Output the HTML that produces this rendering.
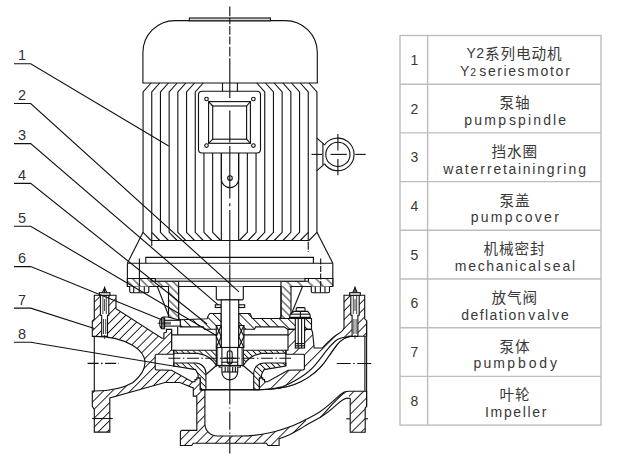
<!DOCTYPE html>
<html><head><meta charset="utf-8"><title>pump</title>
<style>html,body{margin:0;padding:0;background:#fff;}svg{display:block}</style></head>
<body><svg width="620" height="459" viewBox="0 0 620 459">
<defs><pattern id="hr" width="6.3" height="6.3" patternUnits="userSpaceOnUse" patternTransform="rotate(45)"><rect width="6.3" height="6.3" fill="#fff"/><line x1="3.15" y1="-1" x2="3.15" y2="7.3" stroke="#111" stroke-width="0.9"/></pattern>
<pattern id="hr2" width="4.6" height="4.6" patternUnits="userSpaceOnUse" patternTransform="rotate(45)"><rect width="4.6" height="4.6" fill="#fff"/><line x1="2.3" y1="-1" x2="2.3" y2="5.6" stroke="#111" stroke-width="0.9"/></pattern>
<pattern id="hr3" width="6.8" height="6.8" patternUnits="userSpaceOnUse" patternTransform="rotate(45)"><rect width="6.8" height="6.8" fill="#fff"/><line x1="3.4" y1="-1" x2="3.4" y2="7.8" stroke="#111" stroke-width="0.9"/></pattern>
<pattern id="hr4" width="8.4" height="8.4" patternUnits="userSpaceOnUse" patternTransform="rotate(45)"><rect width="8.4" height="8.4" fill="#fff"/><line x1="4.2" y1="-1" x2="4.2" y2="9.4" stroke="#111" stroke-width="0.9"/></pattern>
<pattern id="hl" width="5.3" height="5.3" patternUnits="userSpaceOnUse" patternTransform="rotate(-45)"><rect width="5.3" height="5.3" fill="#fff"/><line x1="2.65" y1="-1" x2="2.65" y2="6.3" stroke="#111" stroke-width="0.9"/></pattern>
<pattern id="hl2" width="7.5" height="7.5" patternUnits="userSpaceOnUse" patternTransform="rotate(-45)"><rect width="7.5" height="7.5" fill="#fff"/><line x1="3.75" y1="-1" x2="3.75" y2="8.5" stroke="#111" stroke-width="0.9"/></pattern>
<pattern id="hli" width="4.2" height="4.2" patternUnits="userSpaceOnUse" patternTransform="rotate(-45)"><rect width="4.2" height="4.2" fill="#fff"/><line x1="2.1" y1="-1" x2="2.1" y2="5.2" stroke="#111" stroke-width="0.9"/></pattern>
<pattern id="hlc" width="6.2" height="6.2" patternUnits="userSpaceOnUse" patternTransform="rotate(-45)"><rect width="6.2" height="6.2" fill="#fff"/><line x1="3.1" y1="-1" x2="3.1" y2="7.2" stroke="#111" stroke-width="0.9"/></pattern>
<clipPath id="clipC1"><rect x="343.5" y="290" width="30" height="50"/></clipPath><clipPath id="clipC2"><rect x="250" y="290" width="93.5" height="110"/></clipPath><clipPath id="clipB"><rect x="170" y="380" width="136" height="75"/><rect x="349" y="389" width="20" height="45"/></clipPath>
</defs>
<rect width="620" height="459" fill="#fff"/>
<g stroke="#bdbdbd" stroke-width="1.4" fill="none">
<rect x="400" y="35.5" width="201" height="389.6" />
<line x1="427.6" y1="35.5" x2="427.6" y2="425.1" />
<line x1="400" y1="84.2" x2="601" y2="84.2" />
<line x1="400" y1="132.9" x2="601" y2="132.9" />
<line x1="400" y1="181.6" x2="601" y2="181.6" />
<line x1="400" y1="230.3" x2="601" y2="230.3" />
<line x1="400" y1="279.0" x2="601" y2="279.0" />
<line x1="400" y1="327.7" x2="601" y2="327.7" />
<line x1="400" y1="376.4" x2="601" y2="376.4" />
</g>
<g fill="#383838" stroke="none" font-family="Liberation Sans, sans-serif" font-size="14px">
<text x="414.3" y="64.8" text-anchor="middle">1</text>
<text x="459.9" y="76.1" textLength="9.2" lengthAdjust="spacing">Y</text>
<text x="479.3" y="76.1" textLength="45.3" lengthAdjust="spacing">series</text>
<text x="527.0" y="76.1" textLength="42.8" lengthAdjust="spacing">motor</text>
<text x="470.3" y="76.1" font-size="10.5px">2</text>
<text x="466.6" y="58.3" textLength="17.5" lengthAdjust="spacing">Y2</text>
<text x="485.0 500.5 516.0 531.5 547.0" y="59.4" font-size="14.6px" font-family="'Liberation Sans', 'Noto Sans CJK SC', sans-serif">系列电动机</text>
<text x="414.3" y="113.5" text-anchor="middle">2</text>
<text x="464.3" y="124.8" textLength="41.7" lengthAdjust="spacing">pump</text>
<text x="509.0" y="124.8" textLength="57.1" lengthAdjust="spacing">spindle</text>
<text x="499.4 514.9" y="108.1" font-size="14.6px" font-family="'Liberation Sans', 'Noto Sans CJK SC', sans-serif">泵轴</text>
<text x="414.3" y="162.2" text-anchor="middle">3</text>
<text x="443.2" y="173.5" textLength="41.7" lengthAdjust="spacing">water</text>
<text x="487.0" y="173.5" textLength="67.5" lengthAdjust="spacing">retaining</text>
<text x="556.7" y="173.5" textLength="29.3" lengthAdjust="spacing">ring</text>
<text x="491.6 507.1 522.6" y="156.8" font-size="14.6px" font-family="'Liberation Sans', 'Noto Sans CJK SC', sans-serif">挡水圈</text>
<text x="414.3" y="210.9" text-anchor="middle">4</text>
<text x="470.8" y="222.2" textLength="41.7" lengthAdjust="spacing">pump</text>
<text x="515.4" y="222.2" textLength="43.5" lengthAdjust="spacing">cover</text>
<text x="499.4 514.9" y="205.5" font-size="14.6px" font-family="'Liberation Sans', 'Noto Sans CJK SC', sans-serif">泵盖</text>
<text x="414.3" y="259.6" text-anchor="middle">5</text>
<text x="454.8" y="270.9" textLength="86.1" lengthAdjust="spacing">mechanical</text>
<text x="543.8" y="270.9" textLength="31.4" lengthAdjust="spacing">seal</text>
<text x="483.4 498.9 514.4 529.9" y="254.2" font-size="14.6px" font-family="'Liberation Sans', 'Noto Sans CJK SC', sans-serif">机械密封</text>
<text x="414.3" y="308.3" text-anchor="middle">6</text>
<text x="461.3" y="319.6" textLength="64.1" lengthAdjust="spacing">deflation</text>
<text x="528.3" y="319.6" textLength="40.4" lengthAdjust="spacing">valve</text>
<text x="491.6 507.1 522.6" y="302.9" font-size="14.6px" font-family="'Liberation Sans', 'Noto Sans CJK SC', sans-serif">放气阀</text>
<text x="414.3" y="357.0" text-anchor="middle">7</text>
<text x="473.4" y="368.3" textLength="41.6" lengthAdjust="spacing">pump</text>
<text x="518.0" y="368.3" textLength="38.9" lengthAdjust="spacing">body</text>
<text x="499.4 514.9" y="351.6" font-size="14.6px" font-family="'Liberation Sans', 'Noto Sans CJK SC', sans-serif">泵体</text>
<text x="414.3" y="405.7" text-anchor="middle">8</text>
<text x="485.0" y="417.0" textLength="61.5" lengthAdjust="spacing">Impeller</text>
<text x="499.4 514.9" y="400.3" font-size="14.6px" font-family="'Liberation Sans', 'Noto Sans CJK SC', sans-serif">叶轮</text>
</g>
<g fill="#333" stroke="none" font-family="Liberation Sans, sans-serif" font-size="14.5px">
<text x="22" y="60.1" text-anchor="middle">1</text>
<text x="22" y="99.9" text-anchor="middle">2</text>
<text x="22" y="140.0" text-anchor="middle">3</text>
<text x="22" y="179.8" text-anchor="middle">4</text>
<text x="22" y="222.6" text-anchor="middle">5</text>
<text x="22" y="263.0" text-anchor="middle">6</text>
<text x="22" y="304.5" text-anchor="middle">7</text>
<text x="22" y="338.7" text-anchor="middle">8</text>
</g>
<g stroke="#111" stroke-width="1.12" fill="none" stroke-linecap="butt" stroke-linejoin="miter">
<path d="M142.9,83 V52.6 A32,32 0 0 1 174.9,20.6 H285.3 A32,32 0 0 1 317.3,52.6 V83 Z" />
<rect x="189.4" y="18" width="81.0" height="2.8" fill="#dcdcdc"/>
<path d="M221.35,153 V240.5" />
<path d="M238.65,153 V240.5" />
<path d="M212.65,153 V232.3 L220.65,240.5" />
<path d="M247.35,153 V232.3 L239.35,240.5" />
<path d="M203.95,153 V232.3 L211.95,240.5" />
<path d="M256.05,153 V232.3 L248.05,240.5" />
<path d="M203.25,83 L195.25,92 V232.3 L203.25,240.5" />
<path d="M256.75,83 L264.75,92 V232.3 L256.75,240.5" />
<path d="M194.55,83 L186.55,92 V232.3 L194.55,240.5" />
<path d="M265.45,83 L273.45,92 V232.3 L265.45,240.5" />
<path d="M185.85,83 L177.85,92 V232.3 L185.85,240.5" />
<path d="M274.15,83 L282.15,92 V232.3 L274.15,240.5" />
<path d="M177.15,83 L169.15,92 V232.3 L177.15,240.5" />
<path d="M282.85,83 L290.85,92 V232.3 L282.85,240.5" />
<path d="M168.45,83 L160.45,92 V232.3 L168.45,240.5" />
<path d="M291.55,83 L299.55,92 V232.3 L291.55,240.5" />
<path d="M159.75,83 L151.75,92 V232.3 L159.75,240.5" />
<path d="M300.25,83 L308.25,92 V232.3 L300.25,240.5" />
<path d="M151.05,83 L143.05,92 V232.3 L151.05,240.5" />
<path d="M308.95,83 L316.95,92 V232.3 L308.95,240.5" />
<line x1="151" y1="240.5" x2="309" y2="240.5" />
<line x1="151.75" y1="232.3" x2="151.75" y2="246" />
<line x1="308.25" y1="232.3" x2="308.25" y2="252" stroke-dasharray="8 1.5"/>
<polyline points="143.05,232.3 127.4,263.2" />
<polyline points="316.95,232.3 332.8,263.2" />
<polyline points="145.8,263.2 145.8,257.4 313.4,257.4 313.4,263.2" />
<line x1="127.4" y1="263.2" x2="332.8" y2="263.2" />
<line x1="127.4" y1="263.2" x2="127.4" y2="286.4" />
<line x1="332.8" y1="263.2" x2="332.8" y2="286.4" />
<polygon points="178.6,281.3 151.2,281.3 151.2,278.5 127.4,278.5 127.4,286.5 168.5,286.5 168.5,317 178.6,320" fill="url(#hl)"/>
<polygon points="281,281.3 308.4,281.3 308.4,278.5 332.8,278.5 332.8,286.5 281,286.5" fill="url(#hl2)" stroke="none"/>
<polygon points="281,286 291,286 291,318.5 281,318.5" fill="url(#hl)" stroke="none"/>
<polygon points="281,281.3 308.4,281.3 308.4,278.5 332.8,278.5 332.8,286.5 291,286.5 291,318.5 281,318.5" />
<line x1="127.4" y1="278.5" x2="332.8" y2="278.5" />
<rect x="155.3" y="278.5" width="149.7" height="2.8" fill="#d8d8d8" stroke="none"/>
<line x1="155.3" y1="281.3" x2="305" y2="281.3" />
<polyline points="151.2,278.5 155.3,278.5 155.3,281.3" />
<polyline points="308.4,278.5 305,278.5 305,281.3" />
<line x1="178.6" y1="286.5" x2="281" y2="286.5" />
<line x1="139.4" y1="258.5" x2="139.4" y2="291.5" />
<line x1="320.7" y1="258.5" x2="320.7" y2="291.5" stroke-dasharray="6 1.5"/>
<path d="M129.7,286.4 V291.3 Q129.7,292.8 131.2,292.8 H147.3 Q148.8,292.8 148.8,291.3 V286.4" fill="#fff"/>
<line x1="133.7" y1="286.4" x2="133.7" y2="292.8" />
<line x1="144.3" y1="286.4" x2="144.3" y2="292.8" />
<line x1="139.25" y1="286.4" x2="139.25" y2="292.8" />
<path d="M311.3,286.4 V291.3 Q311.3,292.8 312.8,292.8 H328.0 Q329.5,292.8 329.5,291.3 V286.4" fill="#fff"/>
<line x1="315.3" y1="286.4" x2="315.3" y2="292.8" />
<line x1="325.0" y1="286.4" x2="325.0" y2="292.8" />
<line x1="320.4" y1="286.4" x2="320.4" y2="292.8" />
<rect x="198.5" y="91.3" width="62" height="61.7" rx="3.5" fill="#fff"/>
<rect x="208.6" y="101.6" width="41.8" height="41.7" />
<rect x="212.7" y="106" width="33.9" height="33.2" />
<line x1="208.6" y1="101.6" x2="212.7" y2="106" />
<line x1="250.4" y1="101.6" x2="246.6" y2="106" />
<line x1="208.6" y1="143.3" x2="212.7" y2="139.2" />
<line x1="250.4" y1="143.3" x2="246.6" y2="139.2" />
<circle cx="206.5" cy="99" r="1.8" />
<circle cx="206.5" cy="145.6" r="1.8" />
<circle cx="253.4" cy="99" r="1.8" />
<circle cx="253.4" cy="145.6" r="1.8" />
<line x1="222.5" y1="83" x2="222.5" y2="91.3" />
<line x1="237.4" y1="83" x2="237.4" y2="91.3" />
<path d="M221.35,153 V179 A8.65,8.65 0 0 0 238.65,179 V153" />
<circle cx="230" cy="178.1" r="2.3" />
<polyline points="316.95,138.1 324.3,144.6" />
<polyline points="316.95,170.7 324.3,164.2" />
<line x1="322.9" y1="143.3" x2="322.9" y2="164.8" />
<path d="M324.3,145.2 A16.3,16.3 0 1 1 324.3,163.6" />
<circle cx="337.9" cy="154.4" r="12.1" />
<line x1="311.5" y1="154.4" x2="322" y2="154.4" />
<line x1="330.5" y1="154.4" x2="346.8" y2="154.4" />
<line x1="355.3" y1="154.4" x2="365.7" y2="154.4" />
<line x1="337.9" y1="134.1" x2="337.9" y2="150.5" />
<line x1="337.9" y1="159" x2="337.9" y2="175.3" />
<path d="M216.3,286.4 V298.9 L217.3,299.9 H242.3 L243.3,298.9 V286.4" fill="#fff"/>
<polyline points="157.3,286.5 168.5,315.3" />
<polyline points="302.5,286.5 291.5,313.8" />
<polyline points="168.5,317 163,317 163,320" />
<path d="M178.6,286.5 V317.3 Q178.6,319.8 181.1,319.8 M281,286.5 V316 Q281,318.5 278.5,318.5" />
<polygon points="180.2,319.8 207.1,318.7 208.2,315.7 209.8,313.5 221.2,313.5 221.2,329.3 204.4,329.3 203.3,326.9 180.2,326.9" fill="url(#hlc)"/>
<polygon points="238.7,313.5 250.1,313.5 252.3,318.5 291.5,318.5 305.5,318.5 311.5,318.5 311.5,329.4 288,329.4 284,326.9 255.6,326.9 254.5,329.3 238.7,329.3" fill="url(#hlc)"/>
<path d="M164.6,317.8 H161.6 Q159.6,319.5 159.6,323.2 Q159.6,327 161.6,328.7 H164.6 Z" fill="#fff"/>
<rect x="164.6" y="320.3" width="15.7" height="5.8" fill="#fff"/>
<line x1="161.6" y1="317.8" x2="161.6" y2="328.7" />
<line x1="163.1" y1="317.8" x2="163.1" y2="328.7" />
<line x1="157.5" y1="323.2" x2="171" y2="323.2" stroke-width="0.8"/>
<line x1="164.6" y1="322.2" x2="171" y2="322.2" stroke-width="0.6"/>
<line x1="164.6" y1="324.2" x2="171" y2="324.2" stroke-width="0.6"/>
<rect x="215.3" y="304.8" width="5.9" height="2.7" />
<rect x="238.7" y="304.8" width="6.0" height="2.7" />
<rect x="221.2" y="299.9" width="17.5" height="47.6" fill="#fff"/>
<rect x="216.3" y="325.5" width="4.9" height="22.0" fill="#fff"/>
<line x1="216.3" y1="325.5" x2="221.2" y2="336.5" />
<line x1="221.2" y1="325.5" x2="216.3" y2="336.5" />
<line x1="216.3" y1="336.5" x2="221.2" y2="347.5" />
<line x1="221.2" y1="336.5" x2="216.3" y2="347.5" />
<rect x="238.7" y="325.5" width="5.2" height="22.0" fill="#fff"/>
<line x1="238.7" y1="325.5" x2="243.9" y2="336.5" />
<line x1="243.9" y1="325.5" x2="238.7" y2="336.5" />
<line x1="238.7" y1="336.5" x2="243.9" y2="347.5" />
<line x1="243.9" y1="336.5" x2="238.7" y2="347.5" />
<line x1="177.7" y1="326.9" x2="177.7" y2="334.9" />
<line x1="171.6" y1="334.9" x2="216.3" y2="334.9" />
<line x1="243.9" y1="334.9" x2="288.2" y2="334.9" />
<line x1="171.6" y1="347.5" x2="171.6" y2="329.4" />
<path d="M94.3,295.3 L116,295.3 L116,308.8 L161.9,338.2 L163.9,338.2 L163.9,333 L166.4,332.2 L166.4,329.4 L171.6,329.4 L171.6,350.3 L173.8,350.3 L173.8,354.2 L156.2,354.2 L155.2,355.2 L155.2,368.9 L156.2,369.9 L171.5,370.3 L192,381.8 L195,381.8 L195,379.6 L196.8,379.6 L196.8,377.9 L200.3,377.9 L200.3,389.8 L204.9,389.8 L204.9,396.1 L193.3,396.1 L193.3,387.9 L179.8,382.5 L165,382.5 L109.8,397.9 L109.8,432.1 L94.3,432.1 L94.3,409.5 L92.3,406.3 L92.3,391 L94.3,391 C108,391 122,389 133,382.5 C141,376 145,369 145,362.5 C145,356 141,350.5 133,345.5 C122,339 108,336.4 94.3,336.4 L92.3,336.4 L92.3,321 L94.3,319.1 Z" fill="url(#hr)" stroke="none"/>
<line x1="94.3" y1="336.4" x2="94.3" y2="391" />
<path d="M196.8,396.1 L193.3,396.1 L193.3,387.9 L179.8,382.5 L165,382.5 L109.8,397.9 L109.8,432.1 L94.3,432.1 L94.3,409.5 L92.3,406.3 L92.3,391 L94.3,391 C108,391 122,389 133,382.5 C141,376 145,369 145,362.5 C145,356 141,350.5 133,345.5 C122,339 108,336.4 94.3,336.4 L92.3,336.4 L92.3,321 L94.3,319.1 L94.3,295.3 L116,295.3 L116,308.8 L161.9,338.2 L163.9,338.2 L163.9,333 L166.4,332.2 L166.4,329.4 L171.6,329.4 L171.6,350.3 L173.8,350.3 L173.8,354.2 L156.2,354.2 L155.2,355.2 L155.2,368.9 L156.2,369.9 L171.5,370.3 L192,381.8 L195,381.8 L195,379.6 L196.8,379.6 L196.8,377.9 L200.3,377.9 L200.3,389.8 L204.9,389.8" />
<path d="M100.39999999999999,295.3 V315.3 H101.69999999999999 V336.4 H107.5 V315.3 H108.8 V295.3 Z" fill="#fff"/>
<line x1="102.89999999999999" y1="295.3" x2="102.89999999999999" y2="314" stroke-width="0.8"/>
<line x1="106.3" y1="295.3" x2="106.3" y2="314" stroke-width="0.8"/>
<line x1="104.6" y1="299" x2="104.6" y2="311" stroke-width="0.8"/>
<line x1="103.5" y1="319" x2="103.5" y2="334" stroke-width="0.8"/>
<line x1="105.69999999999999" y1="319" x2="105.69999999999999" y2="334" stroke-width="0.8"/>
<line x1="104.6" y1="335" x2="104.6" y2="339" stroke-width="0.8"/>
<rect x="99.3" y="292.7" width="10.6" height="2.6" fill="#fff"/>
<polyline points="102.3,292.7 104.6,287.9 106.89999999999999,292.7" />
<line x1="104.6" y1="286.5" x2="104.6" y2="292.7" />
<line x1="92.1" y1="418.5" x2="112.7" y2="418.5" />
<path d="M344,295.3 L364.7,295.3 L364.7,318.8 L366.6,320.7 L366.6,336.2 L347.6,336.2 L352,336.2 C345,336.5 340,341 336.9,344.8 C333,350 331,353 329.2,355.5 C326,360.5 323,364.5 320,367.7 C316,372 312,375 307.9,377.6 C303,380.7 298,383 294.2,384.5 C286,387.5 272,389.5 259.9,389.8 L259.3,389.8 L259.3,377.9 L262.8,377.9 L262.8,379.6 L264.6,379.6 L264.6,381.8 L267.6,381.8 L288.1,370.3 L303.4,369.9 L304.4,368.9 L304.4,355.2 L303.4,354.2 L285.8,354.2 L285.8,350.3 L288,350.3 L288,329.4 L311.5,329.4 L312.6,332.7 L314.2,348 L322.4,348 C324.5,345.8 326,344 327.7,342.5 C330,340.3 332.5,337.8 335.3,335.7 C338.5,333.4 343,332 344,328.2 Z" fill="url(#hr)" stroke="none" clip-path="url(#clipC1)"/>
<path d="M344,295.3 L364.7,295.3 L364.7,318.8 L366.6,320.7 L366.6,336.2 L347.6,336.2 L352,336.2 C345,336.5 340,341 336.9,344.8 C333,350 331,353 329.2,355.5 C326,360.5 323,364.5 320,367.7 C316,372 312,375 307.9,377.6 C303,380.7 298,383 294.2,384.5 C286,387.5 272,389.5 259.9,389.8 L259.3,389.8 L259.3,377.9 L262.8,377.9 L262.8,379.6 L264.6,379.6 L264.6,381.8 L267.6,381.8 L288.1,370.3 L303.4,369.9 L304.4,368.9 L304.4,355.2 L303.4,354.2 L285.8,354.2 L285.8,350.3 L288,350.3 L288,329.4 L311.5,329.4 L312.6,332.7 L314.2,348 L322.4,348 C324.5,345.8 326,344 327.7,342.5 C330,340.3 332.5,337.8 335.3,335.7 C338.5,333.4 343,332 344,328.2 Z" fill="url(#hr4)" stroke="none" clip-path="url(#clipC2)"/>
<path d="M344,295.3 L364.7,295.3 L364.7,318.8 L366.6,320.7 L366.6,336.2 L347.6,336.2 L352,336.2 C345,336.5 340,341 336.9,344.8 C333,350 331,353 329.2,355.5 C326,360.5 323,364.5 320,367.7 C316,372 312,375 307.9,377.6 C303,380.7 298,383 294.2,384.5 C286,387.5 272,389.5 259.9,389.8 L259.3,389.8 L259.3,377.9 L262.8,377.9 L262.8,379.6 L264.6,379.6 L264.6,381.8 L267.6,381.8 L288.1,370.3 L303.4,369.9 L304.4,368.9 L304.4,355.2 L303.4,354.2 L285.8,354.2 L285.8,350.3 L288,350.3 L288,329.4 L311.5,329.4 L312.6,332.7 L314.2,348 L322.4,348 C324.5,345.8 326,344 327.7,342.5 C330,340.3 332.5,337.8 335.3,335.7 C338.5,333.4 343,332 344,328.2 Z" />
<path d="M352,336.2 C345,336.5 340,341 336.9,344.8 C333,350 331,353 329.2,355.5 C326,360.5 323,364.5 320,367.7 C316,372 312,375 307.9,377.6 C303,380.7 298,383 294.2,384.5 C286,387.5 272,389.5 259.9,389.8 L266,389.4 C272,389 278,388 283,386.5 C289,384.5 294,381.5 300.3,377.6 C306,374 311,370 315.5,364.7 C319,360.5 322,356.5 326.2,350.9 C328.5,348 331,345 335.3,341 C339,338 343,337 350,336.3 Z" fill="#fff"/>
<path d="M350.8,295.3 V315.3 H352.1 V336.4 H357.9 V315.3 H359.2 V295.3 Z" fill="#fff"/>
<line x1="353.3" y1="295.3" x2="353.3" y2="314" stroke-width="0.8"/>
<line x1="356.7" y1="295.3" x2="356.7" y2="314" stroke-width="0.8"/>
<line x1="355" y1="299" x2="355" y2="311" stroke-width="0.8"/>
<line x1="353.9" y1="319" x2="353.9" y2="334" stroke-width="0.8"/>
<line x1="356.1" y1="319" x2="356.1" y2="334" stroke-width="0.8"/>
<line x1="355" y1="335" x2="355" y2="339" stroke-width="0.8"/>
<rect x="349.7" y="292.7" width="10.6" height="2.6" fill="#fff"/>
<polyline points="352.7,292.7 355,287.9 357.3,292.7" />
<line x1="355" y1="286.5" x2="355" y2="292.7" />
<line x1="346.2" y1="418.8" x2="368" y2="418.8" />
<path d="M196.8,396.1 V430.4 H182.4 Q180.4,430.4 180.4,432.4 V445.5 H191.7 L193.2,443.3 H266.5 L268,445.5 H279.1 V438.7 C283,437.3 286,436.3 289.4,434.8 C293,433 296,431.2 299.2,429.4 C302.5,427.5 305.5,425.5 309,423.5 C313,421.3 316.5,419.5 320,417.6 C326,414 332,409 337.6,403.9 C340,401.7 341.5,400.5 343.4,399.5 C345.5,398.4 348,397.5 350.2,398.5 V432.2 H365.2 V408 L366.6,406.5 V391.2 H348.4 C345,391.2 342.5,392.6 340.5,394.4 C334,400.5 327,407 320,411.8 C316.5,414 313,416 309,418.1 C304,420.7 299,423.2 293.3,425.5 C286,428.3 278,431 269.8,432.8 C260,435 250,436 240,436 H217.2 A12.3,12.3 0 0 1 204.9,423.7 V395 Z" fill="#fff" stroke="none"/>
<path d="M196.8,396.1 V430.4 H182.4 Q180.4,430.4 180.4,432.4 V445.5 H191.7 L193.2,443.3 H266.5 L268,445.5 H279.1 V438.7 C283,437.3 286,436.3 289.4,434.8 C293,433 296,431.2 299.2,429.4 C302.5,427.5 305.5,425.5 309,423.5 C313,421.3 316.5,419.5 320,417.6 C326,414 332,409 337.6,403.9 C340,401.7 341.5,400.5 343.4,399.5 C345.5,398.4 348,397.5 350.2,398.5 V432.2 H365.2 V408 L366.6,406.5 V391.2 H348.4 C345,391.2 342.5,392.6 340.5,394.4 C334,400.5 327,407 320,411.8 C316.5,414 313,416 309,418.1 C304,420.7 299,423.2 293.3,425.5 C286,428.3 278,431 269.8,432.8 C260,435 250,436 240,436 H217.2 A12.3,12.3 0 0 1 204.9,423.7 V395 Z" fill="url(#hr3)" stroke="none" clip-path="url(#clipB)"/>
<path d="M196.8,396.1 V430.4 H182.4 Q180.4,430.4 180.4,432.4 V445.5 H191.7 L193.2,443.3 H266.5 L268,445.5 H279.1 V438.7 C283,437.3 286,436.3 289.4,434.8 C293,433 296,431.2 299.2,429.4 C302.5,427.5 305.5,425.5 309,423.5 C313,421.3 316.5,419.5 320,417.6 C326,414 332,409 337.6,403.9 C340,401.7 341.5,400.5 343.4,399.5 C345.5,398.4 348,397.5 350.2,398.5 V432.2 H365.2 V408 L366.6,406.5 V391.2 H348.4 C345,391.2 342.5,392.6 340.5,394.4 C334,400.5 327,407 320,411.8 C316.5,414 313,416 309,418.1 C304,420.7 299,423.2 293.3,425.5 C286,428.3 278,431 269.8,432.8 C260,435 250,436 240,436 H217.2 A12.3,12.3 0 0 1 204.9,423.7 V389.8" />
<path d="M320,417.6 C325,413 330,406 337.6,398.8 C340,396.5 342.5,393.5 345.5,392.2" />
<line x1="200.3" y1="389.8" x2="259.3" y2="389.8" stroke-width="1.4"/>
<line x1="366.6" y1="320.7" x2="366.6" y2="406.5" />
<line x1="364.9" y1="336.2" x2="364.9" y2="391.2" />
<polygon points="173.8,350.3 216.4,350.3 216.4,365.5 213,361 209,357.5 205,355.2 198,353.4 173.8,353.2" fill="url(#hli)"/>
<path d="M173.8,363 H195.5 A10.4,10 0 0 1 205.9,373 V389.6 H200.3 V377.9 H198.1 V374.4 L195.5,369.6 L173.8,366.1 Z" fill="url(#hli)"/>
<line x1="173.8" y1="350.3" x2="173.8" y2="366.1" />
<line x1="216.4" y1="365.5" x2="205.9" y2="374.5" />
<polygon points="285.8,350.3 243.2,350.3 243.2,365.5 246.6,361 250.6,357.5 254.6,355.2 261.6,353.4 285.8,353.2" fill="url(#hli)"/>
<path d="M285.8,363 H264.1 A10.4,10 0 0 0 253.7,373 V389.6 H259.3 V377.9 H261.5 V374.4 L264.1,369.6 L285.8,366.1 Z" fill="url(#hli)"/>
<line x1="285.8" y1="350.3" x2="285.8" y2="366.1" />
<line x1="243.2" y1="365.5" x2="253.7" y2="374.5" />
<rect x="216.4" y="347.5" width="26.7" height="18.0" fill="#fff"/>
<line x1="221.9" y1="347.5" x2="221.9" y2="365.5" />
<line x1="237.7" y1="347.5" x2="237.7" y2="365.5" />
<line x1="217.6" y1="347.5" x2="217.6" y2="365.5" stroke-width="0.7"/>
<line x1="241.9" y1="347.5" x2="241.9" y2="365.5" stroke-width="0.7"/>
<line x1="221.9" y1="358.3" x2="237.7" y2="358.3" />
<rect x="227.3" y="350.8" width="4.9" height="13.1" rx="2.4"/>
<line x1="221.9" y1="362.2" x2="237.7" y2="362.2" />
<rect x="219.2" y="365.5" width="21.2" height="1.6" fill="#fff"/>
<path d="M221.9,367.1 V372 A7.9,7.9 0 0 0 237.7,372 V367.1" fill="#fff"/>
<line x1="221.9" y1="372" x2="237.7" y2="372" />
<line x1="225.2" y1="367.1" x2="225.2" y2="372" />
<line x1="227.9" y1="367.1" x2="227.9" y2="372" />
<line x1="232.7" y1="367.1" x2="232.7" y2="372" />
<line x1="235.4" y1="367.1" x2="235.4" y2="372" />
<rect x="295.3" y="318.5" width="9.3" height="29.5" fill="#fff"/>
<line x1="298.2" y1="318.5" x2="298.2" y2="348" />
<line x1="301.6" y1="318.5" x2="301.6" y2="348" />
<line x1="295.3" y1="343.6" x2="304.6" y2="343.6" />
<line x1="295.3" y1="345.8" x2="304.6" y2="345.8" />
<polygon points="294.1,311.4 307.7,311.4 309.9,314.2 310.4,317.4 289.7,317.4 290.2,314.2" fill="#fff"/>
<line x1="290.2" y1="314.2" x2="309.9" y2="314.2" />
<line x1="300.4" y1="311.4" x2="300.4" y2="317.4" />
<line x1="289.2" y1="318" x2="310.9" y2="318" stroke-width="1.5"/>
<rect x="296.2" y="307.6" width="8.8" height="3.8" rx="1"/>
<line x1="229.8" y1="6.5" x2="229.8" y2="16.3" />
<line x1="229.8" y1="17.8" x2="229.8" y2="24.3" />
<line x1="229.8" y1="26" x2="229.8" y2="34.8" />
<line x1="229.8" y1="36.5" x2="229.8" y2="44.6" />
<line x1="229.8" y1="46.7" x2="229.8" y2="56.5" />
<line x1="229.8" y1="58.3" x2="229.8" y2="98" />
<line x1="229.8" y1="110.5" x2="229.8" y2="142.4" />
<line x1="229.8" y1="146" x2="229.8" y2="198.6" />
<line x1="229.8" y1="203.2" x2="229.8" y2="206.2" />
<line x1="229.8" y1="210" x2="229.8" y2="262.7" />
<line x1="229.8" y1="264.5" x2="229.8" y2="404.2" />
<line x1="229.8" y1="407.4" x2="229.8" y2="408.6" />
<line x1="229.8" y1="411.8" x2="229.8" y2="429.8" />
<line x1="229.8" y1="432.6" x2="229.8" y2="433.8" />
<line x1="229.8" y1="436.5" x2="229.8" y2="453.5" />
<line x1="87.6" y1="363.4" x2="119" y2="363.4" stroke-dasharray="11 2.5 1.5 2.5"/>
<line x1="336.7" y1="363.5" x2="373.4" y2="363.5" stroke-dasharray="14 2.5 1.5 2.5"/>
<line x1="168.4" y1="358.2" x2="291" y2="358.2" stroke-dasharray="12 2.5 1.5 2.5"/>
<polyline points="14,63.7 30.7,63.7 168.7,146" />
<polyline points="14,103.5 30.7,103.5 239,291.8" />
<polyline points="14,143.6 30.7,143.6 218.2,304.8" />
<polyline points="14,183.4 30.7,183.4 207,324" />
<polyline points="14,226.2 30.7,226.2 216.3,335.5" />
<polyline points="14,266.6 30.7,266.6 159.9,318.9" />
<polyline points="14,308.1 30.7,308.1 94.4,328.5" />
<polyline points="14,342.3 30.7,342.3 176,366.5" />
</g>
</svg></body></html>
